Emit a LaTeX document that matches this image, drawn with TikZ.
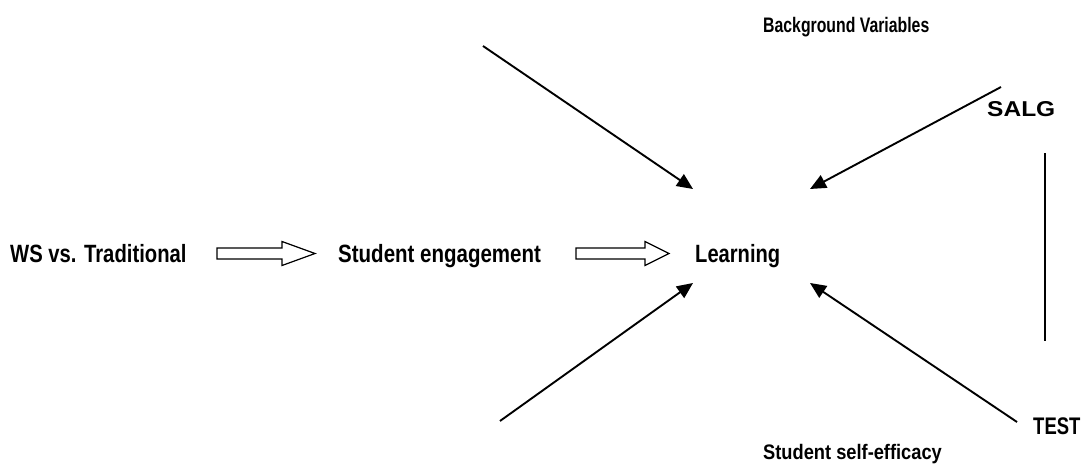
\documentclass[tikz,border=0pt]{standalone}
\usepackage{fontspec}
\usepackage{graphicx}
\setmainfont{Liberation Sans}
\usetikzlibrary{arrows.meta}
\begin{document}
\begin{tikzpicture}[x=1pt,y=-1pt,
  lbl/.style={anchor=base west,inner sep=0pt,font=\bfseries},
  arr/.style={line width=1.9pt,-{Triangle[length=16pt,width=14pt]}},
  hollow/.style={line width=1.2pt,fill=white,line join=miter},
  plain/.style={line width=1.5pt}]
\useasboundingbox (0,0) rectangle (1086,468);

% labels
\node[lbl] (ws) at (10,262) {\fontsize{25}{30}\selectfont\scalebox{0.81}[1]{WS vs. Traditional}};
\node[lbl] (eng) at (338,262) {\fontsize{25}{30}\selectfont\scalebox{0.82}[1]{Student engagement}};
\node[lbl] (learn) at (695,262) {\fontsize{25}{30}\selectfont\scalebox{0.805}[1]{Learning}};
\node[lbl] (bg) at (763,33) {\fontsize{21}{25}\selectfont\scalebox{0.753}[1]{Background Variables}};
\node[lbl] (eff) at (763,459) {\fontsize{21}{25}\selectfont\scalebox{0.87}[1]{Student self-efficacy}};
\node[lbl] (salg) at (987,117) {\fontsize{21.5}{26}\selectfont\scalebox{1.14}[1]{SALG}};
\node[lbl] (test) at (1033,434) {\fontsize{24}{28}\selectfont\scalebox{0.77}[1]{TEST}};

% arrow end points
\coordinate (bgstart) at (483,46);
\coordinate (bgtip) at (693,189);
\coordinate (salgstart) at (1001,87);
\coordinate (salgtip) at (810,189);
\coordinate (effstart) at (500,421);
\coordinate (efftip) at (693,283);
\coordinate (teststart) at (1017,422);
\coordinate (testtip) at (810,283);
\coordinate (vtop) at (1045,153);
\coordinate (vbot) at (1045,341);

% influences on learning
\draw[arr] (bgstart) -- (bgtip);
\draw[arr] (salgstart) -- (salgtip);
\draw[arr] (effstart) -- (efftip);
\draw[arr] (teststart) -- (testtip);
\draw[plain] (vtop) -- (vbot);

% hollow block arrows
\coordinate (b1tail) at (217,253.5);
\coordinate (b1tip) at (315,253.5);
\coordinate (b2tail) at (576,253.5);
\coordinate (b2tip) at (669,253.5);
\draw[hollow] (b1tail) ++(0,-5.5) -- ++(65,0) -- ++(0,-6.5) -- (b1tip)
  -- ++(-33,12) -- ++(0,-6.5) -- ++(-65,0) -- cycle;
\draw[hollow] (b2tail) ++(0,-5.5) -- ++(69,0) -- ++(0,-6.5) -- (b2tip)
  -- ++(-24,12) -- ++(0,-6.5) -- ++(-69,0) -- cycle;
\end{tikzpicture}
\end{document}
